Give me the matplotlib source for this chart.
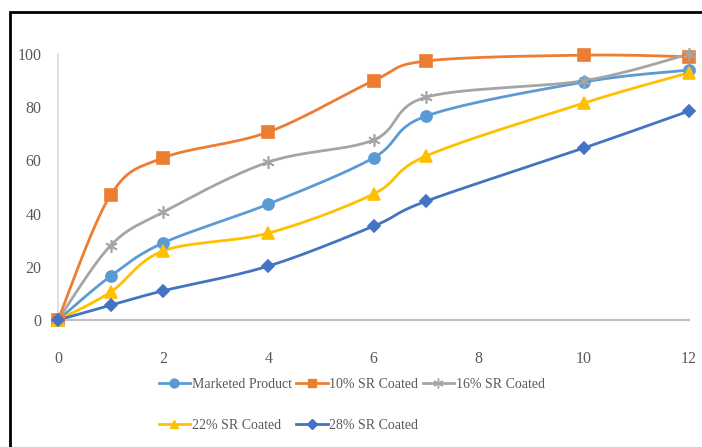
import numpy as np
import matplotlib.pyplot as plt
from matplotlib.patches import Rectangle

plt.rcParams['font.family'] = ['Liberation Serif', 'DejaVu Serif']

hours = [0, 1, 2, 4, 6, 7, 10, 12]
marketed = [0, 16.5, 29, 43.6, 61, 76.7, 89.5, 94]
sr10 = [0, 47, 61, 70.7, 90, 97.4, 99.6, 99]
sr16 = [0, 28, 40.6, 59.4, 67.7, 83.8, 90, 100]
sr22 = [0, 10.5, 26, 32.7, 47.4, 61.7, 81.6, 93]
sr28 = [0, 5.6, 11, 20.3, 35.3, 44.7, 64.7, 78.6]

labels = ['Marketed Product', '10% SR Coated', '16% SR Coated',
          '22% SR Coated', '28% SR Coated']
colors = ['#5B9BD5', '#ED7D31', '#A5A5A5', '#FFC000', '#4472C4']
markers = ['o', 's', (6, 2, 0), '^', 'D']
msizes = [8, 8, 9, 8, 6]


def smooth(x, y, n=30):
    # catmull-rom through the points, like the spreadsheet "smoothed line"
    p = np.column_stack([x, y]).astype(float)
    p = np.vstack([p[0], p, p[-1]])
    out = []
    for i in range(1, len(p) - 2):
        p0, p1, p2, p3 = p[i - 1], p[i], p[i + 1], p[i + 2]
        t = np.linspace(0, 1, n)[:, None]
        seg = 0.5 * ((2 * p1) + (-p0 + p2) * t
                     + (2 * p0 - 5 * p1 + 4 * p2 - p3) * t ** 2
                     + (-p0 + 3 * p1 - 3 * p2 + p3) * t ** 3)
        out.append(seg)
    out = np.vstack(out)
    return out[:, 0], out[:, 1]


fig = plt.figure(figsize=(7.02, 4.47), dpi=100)
ax = fig.add_axes([0.0826, 0.284, 0.899, 0.595])

series = [marketed, sr10, sr16, sr22, sr28]
handles = []
for vals, lab, c, m, ms in zip(series, labels, colors, markers, msizes):
    sx, sy = smooth(hours, vals)
    ax.plot(sx, sy, color=c, lw=2.0, clip_on=False, zorder=2)
    ax.plot(hours, vals, ls='none', marker=m, ms=ms, color=c,
            mec=c, mew=1.2, clip_on=False, zorder=3)
    h, = ax.plot([], [], color=c, lw=2.0, marker=m, ms=ms * 0.8, mec=c,
                 mew=1.0, label=lab)
    handles.append(h)

ax.set_xlim(0, 12)
ax.set_ylim(0, 100)
ax.set_xticks(range(0, 13, 2))
ax.set_yticks(range(0, 101, 20))
ax.tick_params(length=0, labelsize=11.5, labelcolor='#595959')
ax.tick_params(axis='x', pad=22)
ax.tick_params(axis='y', pad=12)
for s in ['top', 'right']:
    ax.spines[s].set_visible(False)
ax.spines['left'].set_color('#D9D9D9')
ax.spines['bottom'].set_color('#BFBFBF')
ax.spines['left'].set_linewidth(1.2)
ax.spines['bottom'].set_linewidth(1.5)

# legend fills column-wise, so reorder to get three items on the first row
order = [0, 3, 1, 4, 2]
leg = fig.legend([handles[i] for i in order], [labels[i] for i in order],
                 ncol=3, loc='upper left', bbox_to_anchor=(0.208, 0.183),
                 bbox_transform=fig.transFigure, frameon=False,
                 fontsize=10, handlelength=2.3, handletextpad=0.1,
                 columnspacing=0.3, labelspacing=2.05)
for t in leg.get_texts():
    t.set_color('#595959')

fig.patches.append(Rectangle((10 / 702, -0.1), 1.2, 1.1 - 12 / 447,
                             transform=fig.transFigure, fill=False,
                             ec='black', lw=2.0))

fig.savefig('out.png', dpi=100)
